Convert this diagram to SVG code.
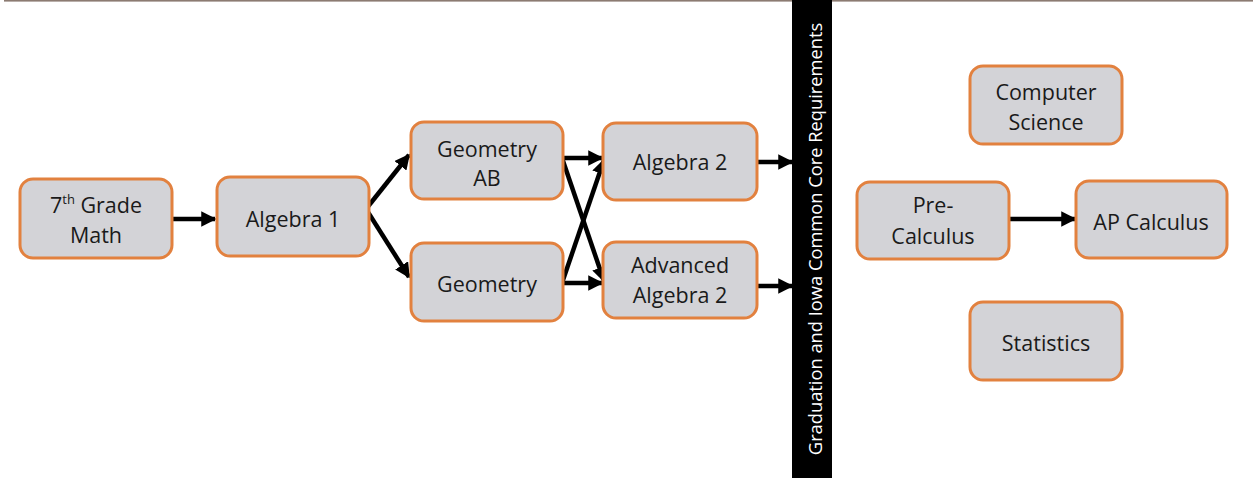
<svg xmlns="http://www.w3.org/2000/svg" width="1253" height="478" viewBox="0 0 1253 478">
  <style>
    .node rect { fill: #d3d3d7; stroke: #e2813f; stroke-width: 3; }
    .node text { font-family: "Open Sans", "Liberation Sans", sans-serif; font-size: 21.5px; fill: #1a1a1a; text-anchor: middle; }
    .edge { stroke: #000; stroke-width: 4.5; fill: none; marker-end: url(#arrow); }
    .bar-label { font-family: "Open Sans", "Liberation Sans", sans-serif; font-size: 18.3px; fill: #fff; text-anchor: middle; }
  </style>
  <defs>
    <marker id="arrow" viewBox="0 0 10 10" refX="9" refY="5" markerWidth="3.4" markerHeight="3.4" markerUnits="strokeWidth" orient="auto">
      <path d="M0,0 L10,5 L0,10 z" fill="#000"/>
    </marker>
  </defs>

  <rect width="1253" height="478" fill="#fff"/>
  <!-- top rule -->
  <rect x="4" y="0" width="1249" height="1.6" fill="#8c7b72"/>

  <!-- requirements divider -->
  <g id="requirements-bar">
    <rect x="792" y="0" width="40" height="478" fill="#000"/>
    <text class="bar-label" transform="translate(822,239) rotate(-90)">Graduation and Iowa Common Core Requirements</text>
  </g>

  <g id="connectors">
    <line class="edge" x1="172" y1="219" x2="215" y2="219"/>
    <line class="edge" x1="366" y1="209" x2="409" y2="155"/>
    <line class="edge" x1="366" y1="209" x2="409" y2="277"/>
    <line class="edge" x1="562" y1="158" x2="602" y2="158"/>
    <line class="edge" x1="562" y1="158" x2="604" y2="281"/>
    <line class="edge" x1="562" y1="283" x2="604" y2="160"/>
    <line class="edge" x1="562" y1="283" x2="602" y2="283"/>
    <line class="edge" x1="757" y1="162" x2="792" y2="162"/>
    <line class="edge" x1="757" y1="286" x2="792" y2="286"/>
    <line class="edge" x1="1009" y1="219" x2="1075" y2="219"/>
  </g>

  <g id="n-grade7" class="node">
    <rect x="20" y="179" width="152" height="79" rx="13"/>
    <text x="96" y="213">7<tspan font-size="13" dy="-9">th</tspan><tspan dy="9"> Grade</tspan></text>
    <text x="96" y="243">Math</text>
  </g>
  <g id="n-algebra1" class="node">
    <rect x="217" y="177" width="152" height="79" rx="13"/>
    <text x="293" y="227">Algebra 1</text>
  </g>
  <g id="n-geometry-ab" class="node">
    <rect x="411" y="122" width="152" height="77" rx="13"/>
    <text x="487" y="157">Geometry</text>
    <text x="487" y="186">AB</text>
  </g>
  <g id="n-geometry" class="node">
    <rect x="411" y="243" width="152" height="78" rx="13"/>
    <text x="487" y="292">Geometry</text>
  </g>
  <g id="n-algebra2" class="node">
    <rect x="603" y="123" width="154" height="77" rx="13"/>
    <text x="680" y="170">Algebra 2</text>
  </g>
  <g id="n-adv-algebra2" class="node">
    <rect x="603" y="242" width="154" height="76" rx="13"/>
    <text x="680" y="273">Advanced</text>
    <text x="680" y="303">Algebra 2</text>
  </g>
  <g id="n-computer-science" class="node">
    <rect x="970" y="66" width="152" height="78" rx="13"/>
    <text x="1046" y="100">Computer</text>
    <text x="1046" y="130">Science</text>
  </g>
  <g id="n-precalculus" class="node">
    <rect x="857" y="182" width="152" height="77" rx="13"/>
    <text x="933" y="213">Pre-</text>
    <text x="933" y="244">Calculus</text>
  </g>
  <g id="n-ap-calculus" class="node">
    <rect x="1076" y="181" width="151" height="77" rx="13"/>
    <text x="1151" y="230">AP Calculus</text>
  </g>
  <g id="n-statistics" class="node">
    <rect x="970" y="302" width="152" height="78" rx="13"/>
    <text x="1046" y="351">Statistics</text>
  </g>
</svg>
